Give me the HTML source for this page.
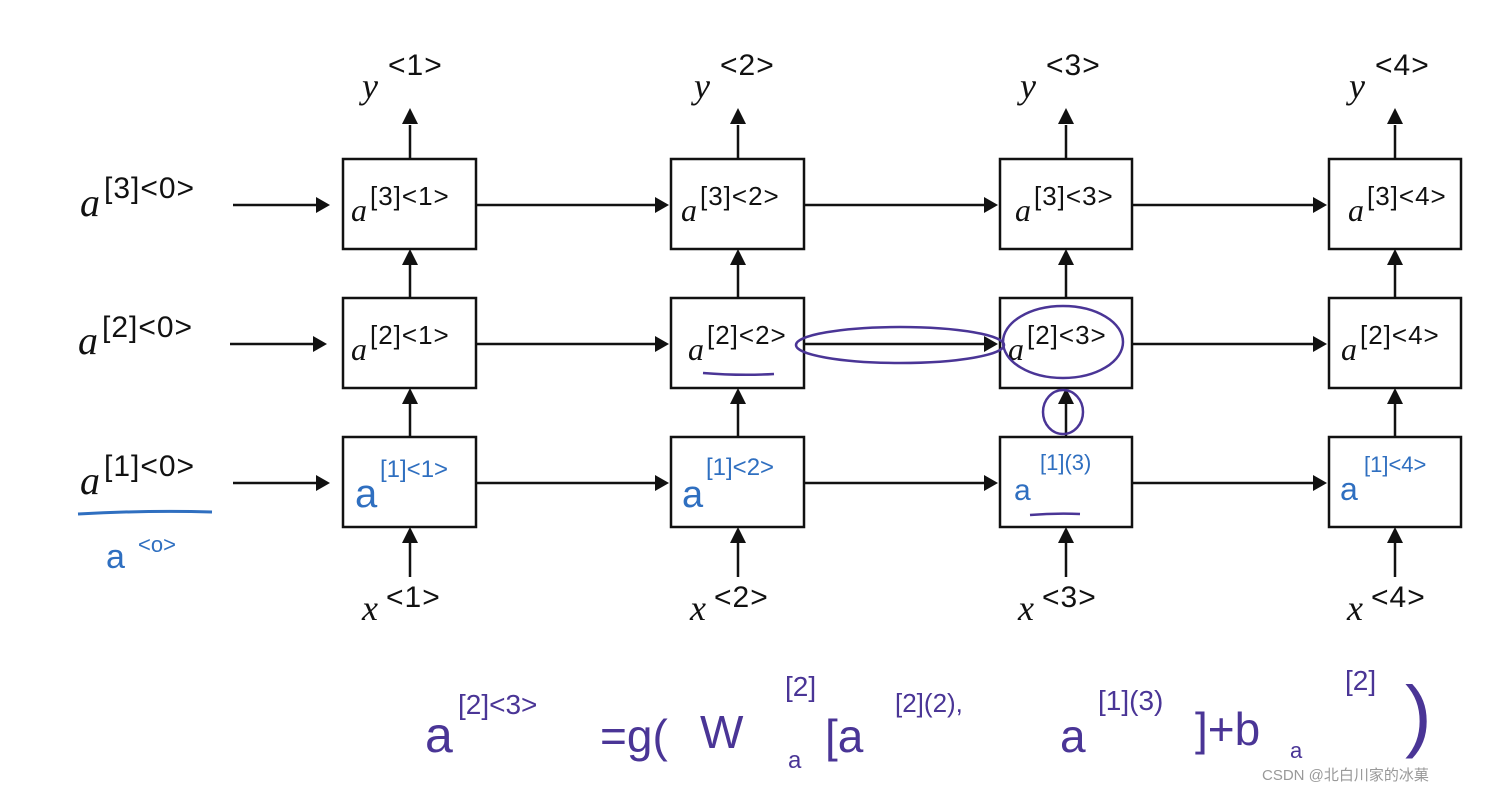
<!DOCTYPE html>
<html><head><meta charset="utf-8"><style>
html,body{margin:0;padding:0;background:#fff;}
svg{display:block}
.m{font-family:"Liberation Serif",serif;font-style:italic;font-size:36px;fill:#111}
.s{font-family:"Liberation Sans",sans-serif;font-size:26px;fill:#111;letter-spacing:1px}
.h{font-family:"Liberation Sans",sans-serif;fill:#2f6fc0}
.p{font-family:"Liberation Sans",sans-serif;fill:#4a3596}
</style></head><body>
<svg width="1488" height="793" viewBox="0 0 1488 793" xmlns="http://www.w3.org/2000/svg">
<g stroke="#111" stroke-width="2.5" fill="none">
<rect x="343" y="159" width="133" height="90"/><rect x="671" y="159" width="133" height="90"/><rect x="1000" y="159" width="132" height="90"/><rect x="1329" y="159" width="132" height="90"/>
<rect x="343" y="298" width="133" height="90"/><rect x="671" y="298" width="133" height="90"/><rect x="1000" y="298" width="132" height="90"/><rect x="1329" y="298" width="132" height="90"/>
<rect x="343" y="437" width="133" height="90"/><rect x="671" y="437" width="133" height="90"/><rect x="1000" y="437" width="132" height="90"/><rect x="1329" y="437" width="132" height="90"/>
<path d="M233 205H318M476 205H655M804 205H984M1132 205H1313"/>
<path d="M230 344H313M476 344H655M804 344H984M1132 344H1313"/>
<path d="M233 483H318M476 483H655M804 483H984M1132 483H1313"/>
<path d="M410 159V125M738 159V125M1066 159V125M1395 159V125"/>
<path d="M410 298V265M738 298V265M1066 298V265M1395 298V265"/>
<path d="M410 437V404M738 437V404M1066 437V404M1395 437V404"/>
<path d="M410 577V543M738 577V543M1066 577V543M1395 577V543"/>
</g>
<g fill="#111">
<path d="M330 205l-14-8v16z"/><path d="M669 205l-14-8v16z"/><path d="M998 205l-14-8v16z"/><path d="M1327 205l-14-8v16z"/>
<path d="M327 344l-14-8v16z"/><path d="M669 344l-14-8v16z"/><path d="M998 344l-14-8v16z"/><path d="M1327 344l-14-8v16z"/>
<path d="M330 483l-14-8v16z"/><path d="M669 483l-14-8v16z"/><path d="M998 483l-14-8v16z"/><path d="M1327 483l-14-8v16z"/>
<path d="M410 108l-8 16h16z"/><path d="M738 108l-8 16h16z"/><path d="M1066 108l-8 16h16z"/><path d="M1395 108l-8 16h16z"/>
<path d="M410 249l-8 16h16z"/><path d="M738 249l-8 16h16z"/><path d="M1066 249l-8 16h16z"/><path d="M1395 249l-8 16h16z"/>
<path d="M410 388l-8 16h16z"/><path d="M738 388l-8 16h16z"/><path d="M1066 388l-8 16h16z"/><path d="M1395 388l-8 16h16z"/>
<path d="M410 527l-8 16h16z"/><path d="M738 527l-8 16h16z"/><path d="M1066 527l-8 16h16z"/><path d="M1395 527l-8 16h16z"/>
</g>
<text class="m" x="362" y="98">y</text><text class="s" x="388" y="75" style="font-size:30px">&lt;1&gt;</text>
<text class="m" x="694" y="98">y</text><text class="s" x="720" y="75" style="font-size:30px">&lt;2&gt;</text>
<text class="m" x="1020" y="98">y</text><text class="s" x="1046" y="75" style="font-size:30px">&lt;3&gt;</text>
<text class="m" x="1349" y="98">y</text><text class="s" x="1375" y="75" style="font-size:30px">&lt;4&gt;</text>
<text class="m" x="362" y="620">x</text><text class="s" x="386" y="607" style="font-size:30px">&lt;1&gt;</text>
<text class="m" x="690" y="620">x</text><text class="s" x="714" y="607" style="font-size:30px">&lt;2&gt;</text>
<text class="m" x="1018" y="620">x</text><text class="s" x="1042" y="607" style="font-size:30px">&lt;3&gt;</text>
<text class="m" x="1347" y="620">x</text><text class="s" x="1371" y="607" style="font-size:30px">&lt;4&gt;</text>
<text class="m" x="80" y="216" style="font-size:40px">a</text><text class="s" x="104" y="198" style="font-size:30px">[3]&lt;0&gt;</text>
<text class="m" x="78" y="354" style="font-size:40px">a</text><text class="s" x="102" y="337" style="font-size:30px">[2]&lt;0&gt;</text>
<text class="m" x="80" y="494" style="font-size:40px">a</text><text class="s" x="104" y="476" style="font-size:30px">[1]&lt;0&gt;</text>
<path d="M78 514Q150 510 212 512" stroke="#2f6fc0" stroke-width="3" fill="none"/>
<text class="h" x="106" y="568" style="font-size:34px">a</text><text class="h" x="138" y="552" style="font-size:22px">&lt;o&gt;</text>
<text class="m" x="351" y="221" style="font-size:32px">a</text><text class="s" x="370" y="205">[3]&lt;1&gt;</text>
<text class="m" x="681" y="221" style="font-size:32px">a</text><text class="s" x="700" y="205">[3]&lt;2&gt;</text>
<text class="m" x="1015" y="221" style="font-size:32px">a</text><text class="s" x="1034" y="205">[3]&lt;3&gt;</text>
<text class="m" x="1348" y="221" style="font-size:32px">a</text><text class="s" x="1367" y="205">[3]&lt;4&gt;</text>
<text class="m" x="351" y="360" style="font-size:32px">a</text><text class="s" x="370" y="344">[2]&lt;1&gt;</text>
<text class="m" x="688" y="360" style="font-size:32px">a</text><text class="s" x="707" y="344">[2]&lt;2&gt;</text>
<text class="m" x="1008" y="360" style="font-size:32px">a</text><text class="s" x="1027" y="344">[2]&lt;3&gt;</text>
<text class="m" x="1341" y="360" style="font-size:32px">a</text><text class="s" x="1360" y="344">[2]&lt;4&gt;</text>
<text class="h" x="355" y="507" style="font-size:40px">a</text><text class="h" x="380" y="477" style="font-size:24px">[1]&lt;1&gt;</text>
<text class="h" x="682" y="507" style="font-size:38px">a</text><text class="h" x="706" y="475" style="font-size:24px">[1]&lt;2&gt;</text>
<text class="h" x="1014" y="500" style="font-size:30px">a</text><text class="h" x="1040" y="470" style="font-size:22px">[1](3)</text>
<text class="h" x="1340" y="500" style="font-size:32px">a</text><text class="h" x="1364" y="472" style="font-size:22px">[1]&lt;4&gt;</text>
<g stroke="#4a3596" stroke-width="2.5" fill="none">
<path d="M703 373Q740 376 774 374"/>
<path d="M1030 515Q1055 513 1080 514"/>
<ellipse cx="900" cy="345" rx="104" ry="18"/>
<ellipse cx="1063" cy="342" rx="60" ry="36"/>
<ellipse cx="1063" cy="412" rx="20" ry="22"/>
</g>
<text class="p" x="425" y="752" style="font-size:50px">a</text><text class="p" x="458" y="714" style="font-size:28px">[2]&lt;3&gt;</text>
<text class="p" x="600" y="752" style="font-size:46px">=g(</text>
<text class="p" x="700" y="748" style="font-size:46px">W</text><text class="p" x="788" y="768" style="font-size:24px">a</text>
<text class="p" x="785" y="696" style="font-size:28px">[2]</text>
<text class="p" x="825" y="752" style="font-size:46px">[a</text><text class="p" x="895" y="712" style="font-size:26px">[2](2),</text>
<text class="p" x="1060" y="752" style="font-size:46px">a</text>
<text class="p" x="1098" y="710" style="font-size:28px">[1](3)</text>
<text class="p" x="1195" y="745" style="font-size:46px">]+b</text><text class="p" x="1290" y="758" style="font-size:22px">a</text><text class="p" x="1345" y="690" style="font-size:28px">[2]</text>
<text class="p" x="1405" y="742" style="font-size:80px">)</text>
<text x="1262" y="780" style="font-family:'Liberation Sans','Noto Sans CJK SC',sans-serif;font-size:15px;fill:#999">CSDN @北白川家的冰菓</text>
</svg>
</body></html>
